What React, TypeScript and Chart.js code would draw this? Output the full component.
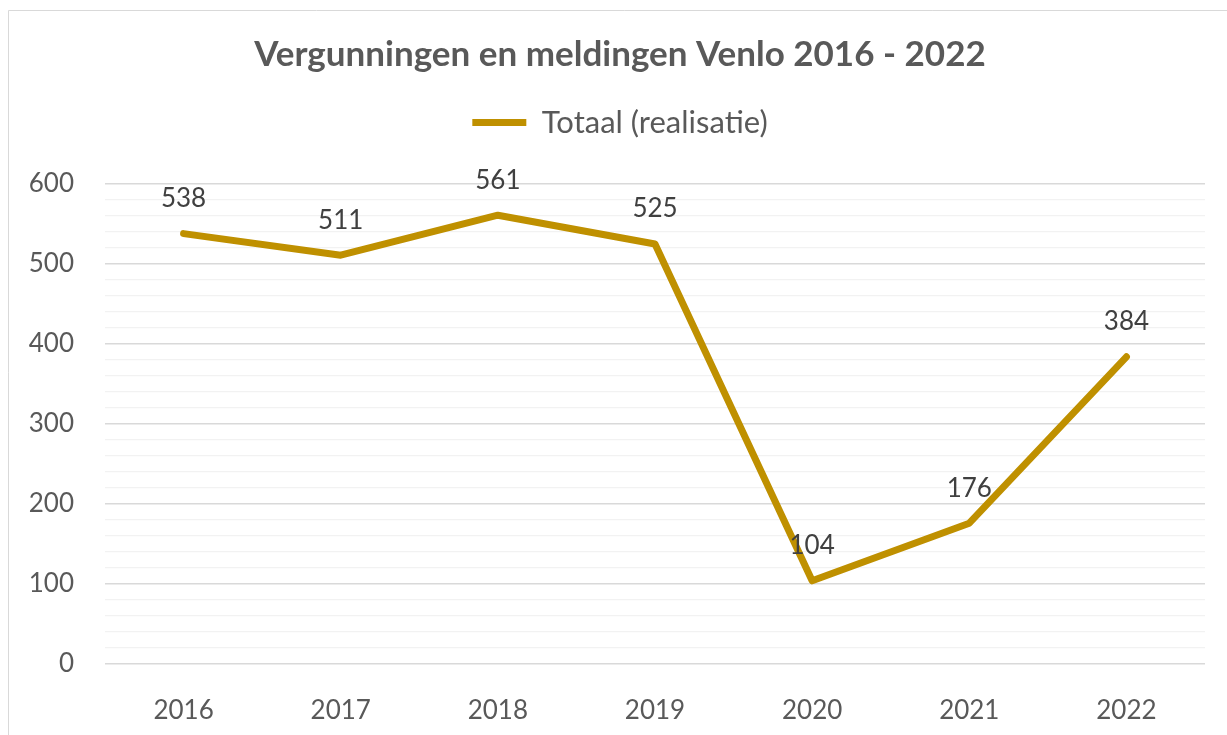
import React, { useEffect, useRef } from 'react';
import { Chart, registerables } from 'chart.js';

Chart.register(...registerables);

const chartTitle = 'Vergunningen en meldingen Venlo 2016 - 2022';
const seriesLabel = 'Totaal (realisatie)';
const years = ['2016', '2017', '2018', '2019', '2020', '2021', '2022'];
const totaal = [538, 511, 561, 525, 104, 176, 384];
const yMin = 0;
const yMax = 600;
const yMajorStep = 100;
const yMinorStep = 20;

const FONT = 'Lato';
const lineColor = '#BF9000';
const textColor = '#595959';
const labelColor = '#404040';

const customPlugin = {
  id: 'customDecor',
  beforeDraw(chart: any) {
    const { ctx, width, height } = chart;
    ctx.save();
    ctx.fillStyle = '#ffffff';
    ctx.fillRect(0, 0, width, height);
    ctx.strokeStyle = '#D9D9D9';
    ctx.lineWidth = 1;
    ctx.beginPath();
    ctx.moveTo(8.5, height);
    ctx.lineTo(8.5, 10.5);
    ctx.lineTo(width, 10.5);
    ctx.stroke();
    ctx.restore();
  },
  afterDatasetsDraw(chart: any) {
    const { ctx } = chart;
    const meta = chart.getDatasetMeta(0);
    const data = chart.data.datasets[0].data;
    ctx.save();
    ctx.fillStyle = labelColor;
    ctx.font = `26px ${FONT}`;
    ctx.textAlign = 'center';
    ctx.textBaseline = 'middle';
    meta.data.forEach((pt: any, i: number) => {
      ctx.fillText(String(data[i]), pt.x, pt.y - 35);
    });
    ctx.restore();
  },
};

export default function App() {
  const ref = useRef<HTMLCanvasElement | null>(null);

  useEffect(() => {
    if (!ref.current) return;
    const chart = new Chart(ref.current, {
      type: 'line',
      data: {
        labels: years,
        datasets: [
          {
            label: seriesLabel,
            data: totaal,
            xAxisID: 'x',
            yAxisID: 'y',
            borderColor: lineColor,
            backgroundColor: lineColor,
            borderWidth: 7,
            pointRadius: 0,
            pointHoverRadius: 0,
            tension: 0,
            borderCapStyle: 'round',
            borderJoinStyle: 'round',
            fill: false,
          },
        ],
      },
      options: {
        responsive: false,
        animation: false,
        layout: { padding: { top: 0, left: 0, right: 0, bottom: 0 } },
        plugins: {
          title: {
            display: true,
            text: chartTitle,
            color: textColor,
            font: { family: FONT, size: 35, weight: 'bold', lineHeight: 1.2 },
            padding: { top: 34, bottom: 21 },
          },
          legend: {
            display: true,
            position: 'top',
            labels: {
              color: textColor,
              font: { family: FONT, size: 31, lineHeight: 1.2 },
              usePointStyle: true,
              pointStyle: 'line',
              pointStyleWidth: 54,
              padding: 10,
            },
          },
          tooltip: { enabled: false },
        },
        scales: {
          x: {
            type: 'category',
            position: 'bottom',
            offset: true,
            grid: { display: false },
            border: { display: false },
            ticks: {
              color: textColor,
              font: { family: FONT, size: 26, lineHeight: 1.2 },
              padding: 23,
            },
            afterFit: (s: any) => {
              s.height = 71;
            },
          },
          xTop: {
            type: 'category',
            position: 'top',
            offset: true,
            display: true,
            grid: { display: false },
            border: { display: false },
            ticks: { display: false },
            afterFit: (s: any) => {
              s.height = 36;
            },
          },
          y: {
            position: 'left',
            min: yMin,
            max: yMax,
            border: { display: false },
            grid: {
              drawTicks: false,
              color: (c: any) => (c.tick && c.tick.value % yMajorStep === 0 ? '#D9D9D9' : '#F2F2F2'),
              lineWidth: (c: any) => (c.tick && c.tick.value % yMajorStep === 0 ? 1.5 : 1.2),
            },
            ticks: {
              stepSize: yMinorStep,
              autoSkip: false,
              color: textColor,
              font: { family: FONT, size: 26, lineHeight: 1.2 },
              padding: 31,
              callback: (v: any) => (Number(v) % yMajorStep === 0 ? String(v) : ''),
            },
            afterFit: (s: any) => {
              s.width = 105;
            },
          },
          yRight: {
            type: 'linear',
            position: 'right',
            display: true,
            min: yMin,
            max: yMax,
            grid: { display: false },
            border: { display: false },
            ticks: { display: false },
            afterFit: (s: any) => {
              s.width = 35;
            },
          },
        },
      },
      plugins: [customPlugin],
    } as any);
    return () => chart.destroy();
  }, []);

  return (
    <div
      style={{
        position: 'fixed',
        left: 0,
        top: 0,
        width: 1227,
        height: 735,
        overflow: 'hidden',
        background: '#ffffff',
      }}
    >
      <canvas ref={ref} width={1240} height={735} style={{ width: 1240, height: 735, display: 'block' }} />
    </div>
  );
}
